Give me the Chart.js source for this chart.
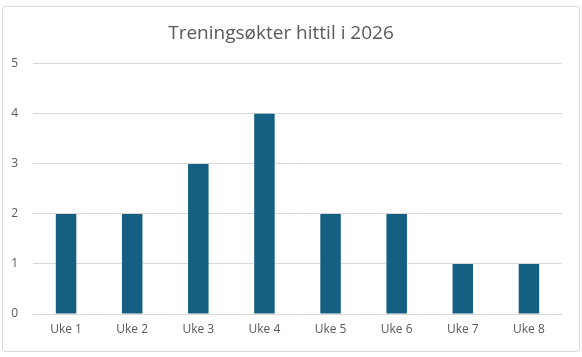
<!DOCTYPE html>
<html>
<head>
<meta charset="utf-8">
<script src="https://cdn.jsdelivr.net/npm/chart.js@4"></script>
<style>
html,body{margin:0;padding:0;background:#fff;}
#wrap{position:relative;width:582px;height:357px;}
</style>
</head>
<body>
<div id="wrap"><canvas id="c" width="582" height="357"></canvas></div>
<script>
const chartTitle = "Treningsøkter hittil i 2026";
const categories = ["Uke 1","Uke 2","Uke 3","Uke 4","Uke 5","Uke 6","Uke 7","Uke 8"];
const sessions = [2,2,3,4,2,2,1,1];
const yTicks = [0,1,2,3,4,5];

const borderPlugin = {
  id: 'frame',
  beforeDraw(chart) {
    const ctx = chart.ctx;
    ctx.save();
    ctx.fillStyle = '#ffffff';
    ctx.fillRect(0,0,chart.width,chart.height);
    ctx.strokeStyle = '#d9d9d9';
    ctx.lineWidth = 1;
    ctx.beginPath();
    ctx.roundRect(2.5, 6.5, 577, 345, 3);
    ctx.stroke();
    ctx.restore();
  }
};

new Chart(document.getElementById('c'), {
  type: 'bar',
  data: {
    labels: categories,
    datasets: [{
      data: sessions,
      backgroundColor: '#156082',
      categoryPercentage: 1,
      barPercentage: 0.31
    }]
  },
  options: {
    responsive: false,
    animation: false,
    devicePixelRatio: 1,
    layout: { padding: { left: 0, right: 20, top: 0, bottom: 0 } },
    plugins: {
      legend: { display: false },
      tooltip: { enabled: false },
      title: {
        display: true,
        text: chartTitle,
        color: '#595959',
        font: { family: 'Open Sans', size: 19, weight: 'normal' },
        padding: { top: 22, bottom: 19 }
      }
    },
    scales: {
      x: {
        grid: { display: false, drawTicks: false },
        border: { display: false },
        ticks: { color: '#595959', font: { family: 'Open Sans', size: 12 }, padding: 8 },
        afterFit(scale) { scale.height = 43; }
      },
      y: {
        min: 0, max: 5,
        afterBuildTicks(scale) { scale.ticks = yTicks.map(v => ({ value: v })); },
        grid: { color: '#d9d9d9', drawTicks: false },
        border: { display: false },
        ticks: { color: '#595959', font: { family: 'Open Sans', size: 12 }, padding: 15 },
        afterFit(scale) { scale.width = 33; }
      }
    }
  },
  plugins: [borderPlugin]
});
</script>
</body>
</html>
